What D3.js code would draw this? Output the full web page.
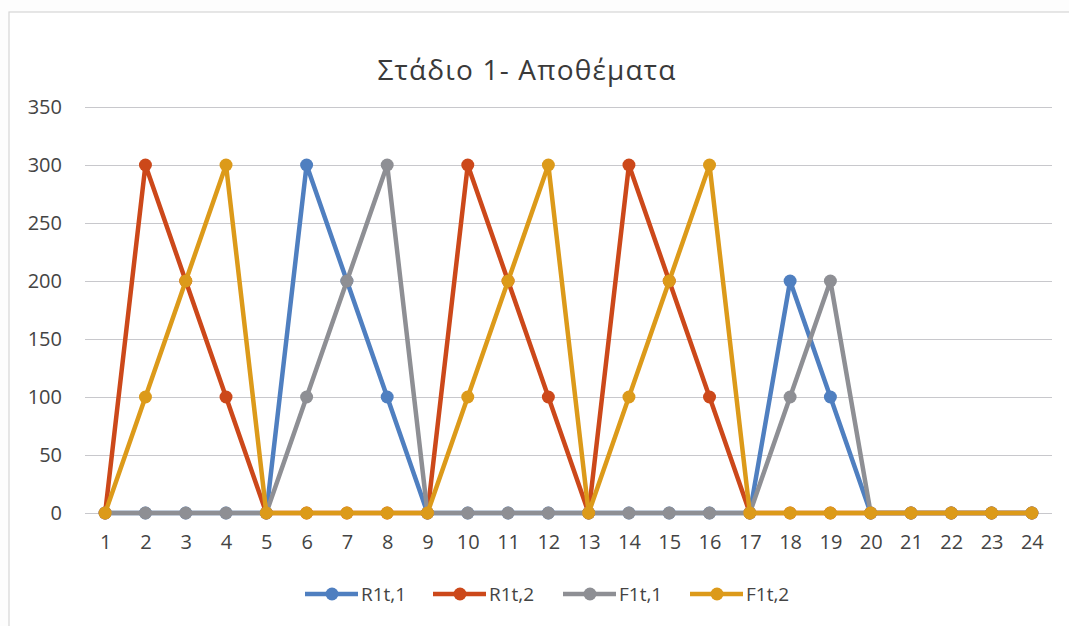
<!DOCTYPE html>
<html>
<head>
<meta charset="utf-8">
<script src="https://cdn.jsdelivr.net/npm/d3@7"></script>
<style>
  html, body { margin: 0; padding: 0; background: #fdfdfd; overflow: hidden; }
  svg { display: block; }
  text { font-family: "Open Sans", "DejaVu Sans", sans-serif; fill: #444; }
</style>
</head>
<body>
<svg id="chart" width="1069" height="626"></svg>
<script>
// Periods 1..24
const periods = d3.range(1, 25);
const yTicks = [0, 50, 100, 150, 200, 250, 300, 350];

// Inventory levels per period
const r1t1 = [0,0,0,0,0,300,200,100,0,0,0,0,0,0,0,0,0,200,100,0,0,0,0,0];
const r1t2 = [0,300,200,100,0,0,0,0,0,300,200,100,0,300,200,100,0,0,0,0,0,0,0,0];
const f1t1 = [0,0,0,0,0,100,200,300,0,0,0,0,0,0,0,0,0,100,200,0,0,0,0,0];
const f1t2 = [0,100,200,300,0,0,0,0,0,100,200,300,0,100,200,300,0,0,0,0,0,0,0,0];

const seriesNames = ["R1t,1", "R1t,2", "F1t,1", "F1t,2"];
const seriesValues = [r1t1, r1t2, f1t1, f1t2];
const seriesColors = ["#4f7fc0", "#cc481a", "#8e8f94", "#dc9a1a"];

const svg = d3.select("#chart");
const margin = { left: 85, right: 17, top: 107, bottom: 113 };
const W = 1069, H = 626;

const x = d3.scalePoint()
  .domain(periods)
  .range([margin.left, W - margin.right])
  .padding(0.5);
const y = d3.scaleLinear()
  .domain([0, 350])
  .range([H - margin.bottom, margin.top]);

// chart frame
svg.append("rect")
  .attr("x", 9).attr("y", 12).attr("width", W + 20).attr("height", H + 20)
  .attr("fill", "#ffffff").attr("stroke", "#d6d6d6").attr("stroke-width", 1.2);

// title
svg.append("text")
  .attr("x", 527).attr("y", 80)
  .attr("text-anchor", "middle")
  .style("font-size", "28px")
  .style("letter-spacing", "1.2px")
  .style("fill", "#3a3a3a")
  .text("Στάδιο 1- Αποθέματα");

// horizontal gridlines + y labels
const yAxis = d3.axisLeft(y).tickValues(yTicks).tickSize(-(W - margin.left - margin.right)).tickPadding(23);
const gy = svg.append("g").attr("transform", `translate(${margin.left},0)`).call(yAxis);
gy.select(".domain").remove();
gy.selectAll(".tick line").attr("stroke", "#c8c8cc").attr("stroke-width", 1.2);
gy.selectAll(".tick text").style("font-size", "20px").attr("fill", "#3a3a3a");

// x labels
const xAxis = d3.axisBottom(x).tickSize(0).tickPadding(22);
const gx = svg.append("g").attr("transform", `translate(0,${H - margin.bottom})`).call(xAxis);
gx.select(".domain").remove();
gx.selectAll(".tick text").style("font-size", "20px").attr("fill", "#3a3a3a");

// lines and markers
const line = d3.line().x((d, i) => x(periods[i])).y(d => y(d));
seriesValues.forEach((vals, k) => {
  const g = svg.append("g");
  g.append("path")
    .datum(vals)
    .attr("d", line)
    .attr("fill", "none")
    .attr("stroke", seriesColors[k])
    .attr("stroke-width", 4.5)
    .attr("stroke-linejoin", "round");
  g.selectAll("circle")
    .data(vals)
    .join("circle")
    .attr("cx", (d, i) => x(periods[i]))
    .attr("cy", d => y(d))
    .attr("r", 6.5)
    .attr("fill", seriesColors[k]);
});

// legend
const legendX = [305, 433, 563, 690];
const legendY = 594;
seriesNames.forEach((name, k) => {
  const g = svg.append("g").attr("transform", `translate(${legendX[k]},${legendY})`);
  g.append("line").attr("x1", 0).attr("x2", 53).attr("y1", 0).attr("y2", 0)
    .attr("stroke", seriesColors[k]).attr("stroke-width", 4.5);
  g.append("circle").attr("cx", 27).attr("cy", 0).attr("r", 6.5).attr("fill", seriesColors[k]);
  g.append("text").attr("x", 56).attr("y", 7).style("font-size", "19px").attr("fill", "#3a3a3a").text(name);
});
</script>
</body>
</html>
